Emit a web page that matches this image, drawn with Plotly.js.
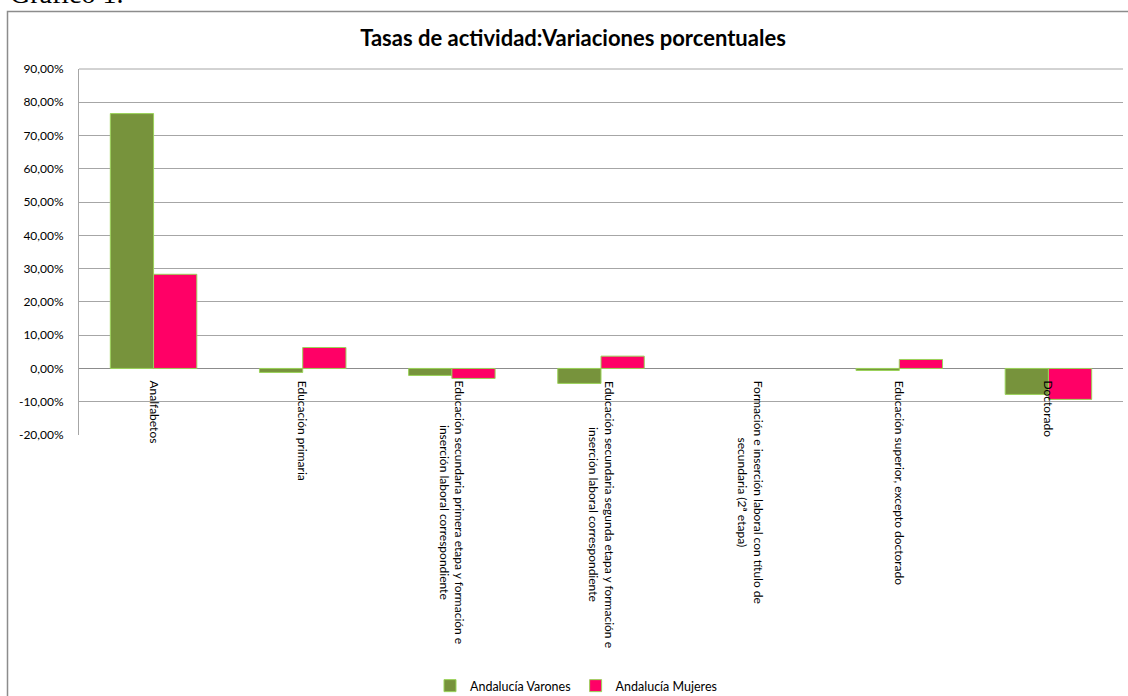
<!DOCTYPE html>
<html>
<head>
<meta charset="utf-8">
<script src="https://cdn.plot.ly/plotly-3.0.1.min.js"></script>
<style>html,body{margin:0;padding:0;background:#fff;}#chart{width:1128px;height:696px;}</style>
</head>
<body>
<div id="chart"></div>
<script>
const categories = [
  "Analfabetos",
  "Educación primaria",
  "Educación secundaria primera etapa y formación e<br>inserción laboral correspondiente",
  "Educación secundaria segunda etapa y formación e<br>inserción laboral correspondiente",
  "Formación e inserción laboral con título de<br>secundaria (2ª etapa)",
  "Educación superior, excepto doctorado",
  "Doctorado"
];
const varones = [76.6, -1.2, -2.1, -4.5, null, -0.6, -7.8];
const mujeres = [28.3, 6.3, -3.0, 3.7, null, 2.7, -9.3];
const seriesNames = ["Andalucía Varones", "Andalucía Mujeres"];
const yTicks = [-20, -10, 0, 10, 20, 30, 40, 50, 60, 70, 80, 90];
const yTickText = yTicks.map(v => v.toFixed(2).replace(".", ",") + "%");

const W = 1128, H = 696;
const mL = 79, mR = 5, mT = 69, mB = 261;
const pw = W - mL - mR, ph = H - mT - mB;
const px = v => (v - mL) / pw;
const py = v => (H - mB - v) / ph;

const FONT = "Lato, 'Open Sans', sans-serif";
const keys = categories.map((c, i) => "c" + i);

const traces = [
  {type: "bar", name: seriesNames[0], x: keys, y: varones,
   marker: {color: "#77933C", line: {color: "#9BD35A", width: 1}}},
  {type: "bar", name: seriesNames[1], x: keys, y: mujeres,
   marker: {color: "#FF0066", line: {color: "#9BD35A", width: 1}}}
];

const annotations = categories.map((c, i) => ({
  x: keys[i], y: 0, xref: "x", yref: "y",
  text: c, showarrow: false, textangle: 90,
  xanchor: "center", yanchor: "top", yshift: -10, align: "center",
  font: {family: FONT, size: 12, color: "#000"}
}));
annotations.push({
  xref: "paper", yref: "paper", x: px(8), y: py(11),
  xanchor: "left", yanchor: "bottom", showarrow: false,
  text: "Gráfico 1.", font: {family: "'Liberation Serif', 'Times New Roman', serif", size: 28, color: "#000"}
});

const layout = {
  width: W, height: H,
  margin: {l: mL, r: mR, t: mT, b: mB, pad: 0, autoexpand: false},
  paper_bgcolor: "#fff", plot_bgcolor: "#fff",
  separators: ",.",
  barmode: "group", bargap: 0.42, bargroupgap: 0,
  title: {text: "<b>Tasas de actividad:Variaciones porcentuales</b>",
          font: {family: FONT, size: 22, color: "#000"},
          xref: "container", x: 573 / W, xanchor: "center",
          yref: "container", y: 1 - 38 / H, yanchor: "middle"},
  xaxis: {showticklabels: false, showgrid: false, zeroline: false, showline: false,
          ticks: "", fixedrange: true},
  yaxis: {range: [-20, 90], tickmode: "array", tickvals: yTicks, ticktext: yTickText,
          showgrid: true, gridcolor: "#A6A6A6", gridwidth: 1,
          zeroline: true, zerolinecolor: "#8C8C8C", zerolinewidth: 1,
          showline: true, linecolor: "#A6A6A6", linewidth: 1,
          ticks: "", ticklabelstandoff: 12,
          tickfont: {family: FONT, size: 12, color: "#000"}},
  legend: {orientation: "h", x: px(576), xanchor: "center", y: py(686), yanchor: "middle",
           font: {family: FONT, size: 12.5, color: "#000"}, itemwidth: 30, tracegroupgap: 0},
  showlegend: true,
  shapes: [
    {type: "rect", xref: "paper", yref: "paper", x0: px(7.5), x1: px(1135), y0: py(703), y1: py(11.5),
     line: {color: "#8C8C8C", width: 1.5}, fillcolor: "rgba(0,0,0,0)", layer: "below"},
    {type: "line", xref: "paper", yref: "paper", x0: 0, x1: 1, y0: 1, y1: 1,
     line: {color: "#A6A6A6", width: 1}}
  ],
  annotations: annotations
};

Plotly.newPlot("chart", traces, layout, {displayModeBar: false, staticPlot: true});
</script>
</body>
</html>
